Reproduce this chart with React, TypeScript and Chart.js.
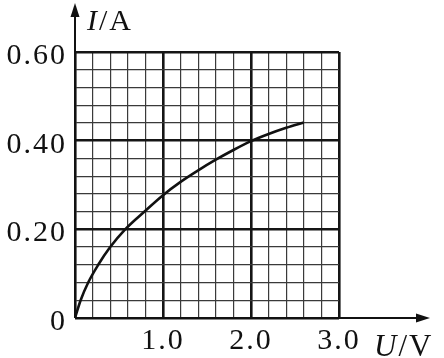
import React, { useEffect, useRef } from "react";
import { Chart, registerables } from "chart.js";

Chart.register(...registerables);

// I–U curve
const uValues = [0, 0.064, 0.15, 0.264, 0.4, 0.57, 0.8, 1.0, 1.2, 1.4, 1.6, 1.8, 2.0, 2.2, 2.4, 2.6];
const iValues = [0, 0.04, 0.08, 0.12, 0.16, 0.2, 0.242, 0.277, 0.307, 0.333, 0.357, 0.379, 0.399, 0.415, 0.429, 0.441];

const xMajorValues = [1, 2, 3];
const xTickLabels = ["1.0", "2.0", "3.0"];
const yMajorValues = [0, 0.2, 0.4, 0.6];
const yTickLabels = ["0", "0.20", "0.40", "0.60"];

const X_MIN = 0, X_MAX = 3, X_STEP = 0.2;
const Y_MIN = 0, Y_MAX = 0.6, Y_STEP = 0.04;

const FONT = "'Liberation Serif', 'Times New Roman', serif";
const SPACING = "2px";

const near = (a: number, b: number) => Math.abs(a - b) < 1e-6;
const isXMajor = (v: number) => near(v, Math.round(v));
const isYMajor = (v: number) => near(v / 0.2, Math.round(v / 0.2));

const decorPlugin = {
  id: "decor",
  beforeDraw(chart: any) {
    (chart.ctx as any).letterSpacing = SPACING;
  },
  afterDraw(chart: any) {
    const ctx = chart.ctx as CanvasRenderingContext2D;
    const xs = chart.scales.x;
    const ys = chart.scales.y;
    const area = chart.chartArea;
    const x0 = xs.getPixelForValue(0);
    const y0 = ys.getPixelForValue(0);
    ctx.save();
    ctx.strokeStyle = "#111";
    ctx.fillStyle = "#111";
    ctx.lineWidth = 2;
    // y axis with arrow
    ctx.beginPath();
    ctx.moveTo(x0, y0);
    ctx.lineTo(x0, 14);
    ctx.stroke();
    ctx.beginPath();
    ctx.moveTo(x0, 3);
    ctx.lineTo(x0 - 4.5, 17);
    ctx.lineTo(x0 + 4.5, 17);
    ctx.closePath();
    ctx.fill();
    // x axis with arrow
    ctx.beginPath();
    ctx.moveTo(x0, y0);
    ctx.lineTo(418, y0);
    ctx.stroke();
    ctx.beginPath();
    ctx.moveTo(430, y0);
    ctx.lineTo(416, y0 - 4.5);
    ctx.lineTo(416, y0 + 4.5);
    ctx.closePath();
    ctx.fill();

    (ctx as any).letterSpacing = SPACING;
    ctx.textAlign = "left";
    ctx.textBaseline = "alphabetic";
    // y title I/A
    let tx = area.left + 12;
    let ty = area.top - 22;
    ctx.font = `italic 30px ${FONT}`;
    ctx.fillText("I", tx, ty);
    tx += ctx.measureText("I").width;
    ctx.font = `30px ${FONT}`;
    ctx.fillText("/A", tx, ty);
    // x title U/V
    tx = area.right + 35;
    ty = area.bottom + 38;
    ctx.font = `italic 31px ${FONT}`;
    ctx.fillText("U", tx, ty);
    tx += ctx.measureText("U").width;
    ctx.font = `31px ${FONT}`;
    ctx.fillText("/V", tx, ty);
    ctx.restore();
    (ctx as any).letterSpacing = "0px";
  },
};

export default function App() {
  const canvasRef = useRef<HTMLCanvasElement | null>(null);

  useEffect(() => {
    if (!canvasRef.current) return;
    const chart = new Chart(canvasRef.current, {
      type: "line",
      data: {
        datasets: [
          {
            data: uValues.map((u, i) => ({ x: u, y: iValues[i] })),
            borderColor: "#111",
            borderWidth: 2.6,
            pointRadius: 0,
            cubicInterpolationMode: "monotone",
            fill: false,
          },
        ],
      },
      options: {
        animation: false,
        responsive: false,
        maintainAspectRatio: false,
        layout: { padding: { top: 52, right: 105, left: 0, bottom: 0 } },
        plugins: { legend: { display: false }, tooltip: { enabled: false }, title: { display: false } },
        scales: {
          x: {
            type: "linear",
            min: X_MIN,
            max: X_MAX,
            border: { display: false },
            afterFit: (s: any) => { s.height = 40; },
            grid: {
              drawTicks: false,
              color: (c: any) => (isXMajor(c.tick.value) ? "#151515" : "#3a3a3a"),
              lineWidth: (c: any) => (isXMajor(c.tick.value) ? 2.6 : 1.2),
            },
            ticks: {
              stepSize: X_STEP,
              autoSkip: false,
              maxRotation: 0,
              padding: 5,
              color: "#111",
              font: { family: FONT, size: 30 },
              callback: (v: any) => {
                const k = xMajorValues.findIndex((m) => near(m, Number(v)));
                return k >= 0 ? xTickLabels[k] : "";
              },
            },
          },
          y: {
            type: "linear",
            min: Y_MIN,
            max: Y_MAX,
            border: { display: false },
            afterFit: (s: any) => { s.width = 75; },
            grid: {
              drawTicks: false,
              color: (c: any) => (isYMajor(c.tick.value) ? "#151515" : "#3a3a3a"),
              lineWidth: (c: any) => (isYMajor(c.tick.value) ? 2.6 : 1.2),
            },
            ticks: {
              stepSize: Y_STEP,
              autoSkip: false,
              padding: 8,
              labelOffset: 4,
              color: "#111",
              font: { family: FONT, size: 30 },
              callback: (v: any) => {
                const k = yMajorValues.findIndex((m) => near(m, Number(v)));
                return k >= 0 ? yTickLabels[k] : "";
              },
            },
          },
        },
      },
      plugins: [decorPlugin],
    });
    return () => chart.destroy();
  }, []);

  return (
    <div style={{ position: "fixed", left: 0, top: 0, width: 444, height: 358, background: "#fff" }}>
      <canvas ref={canvasRef} width={444} height={358} style={{ width: 444, height: 358 }} />
    </div>
  );
}
